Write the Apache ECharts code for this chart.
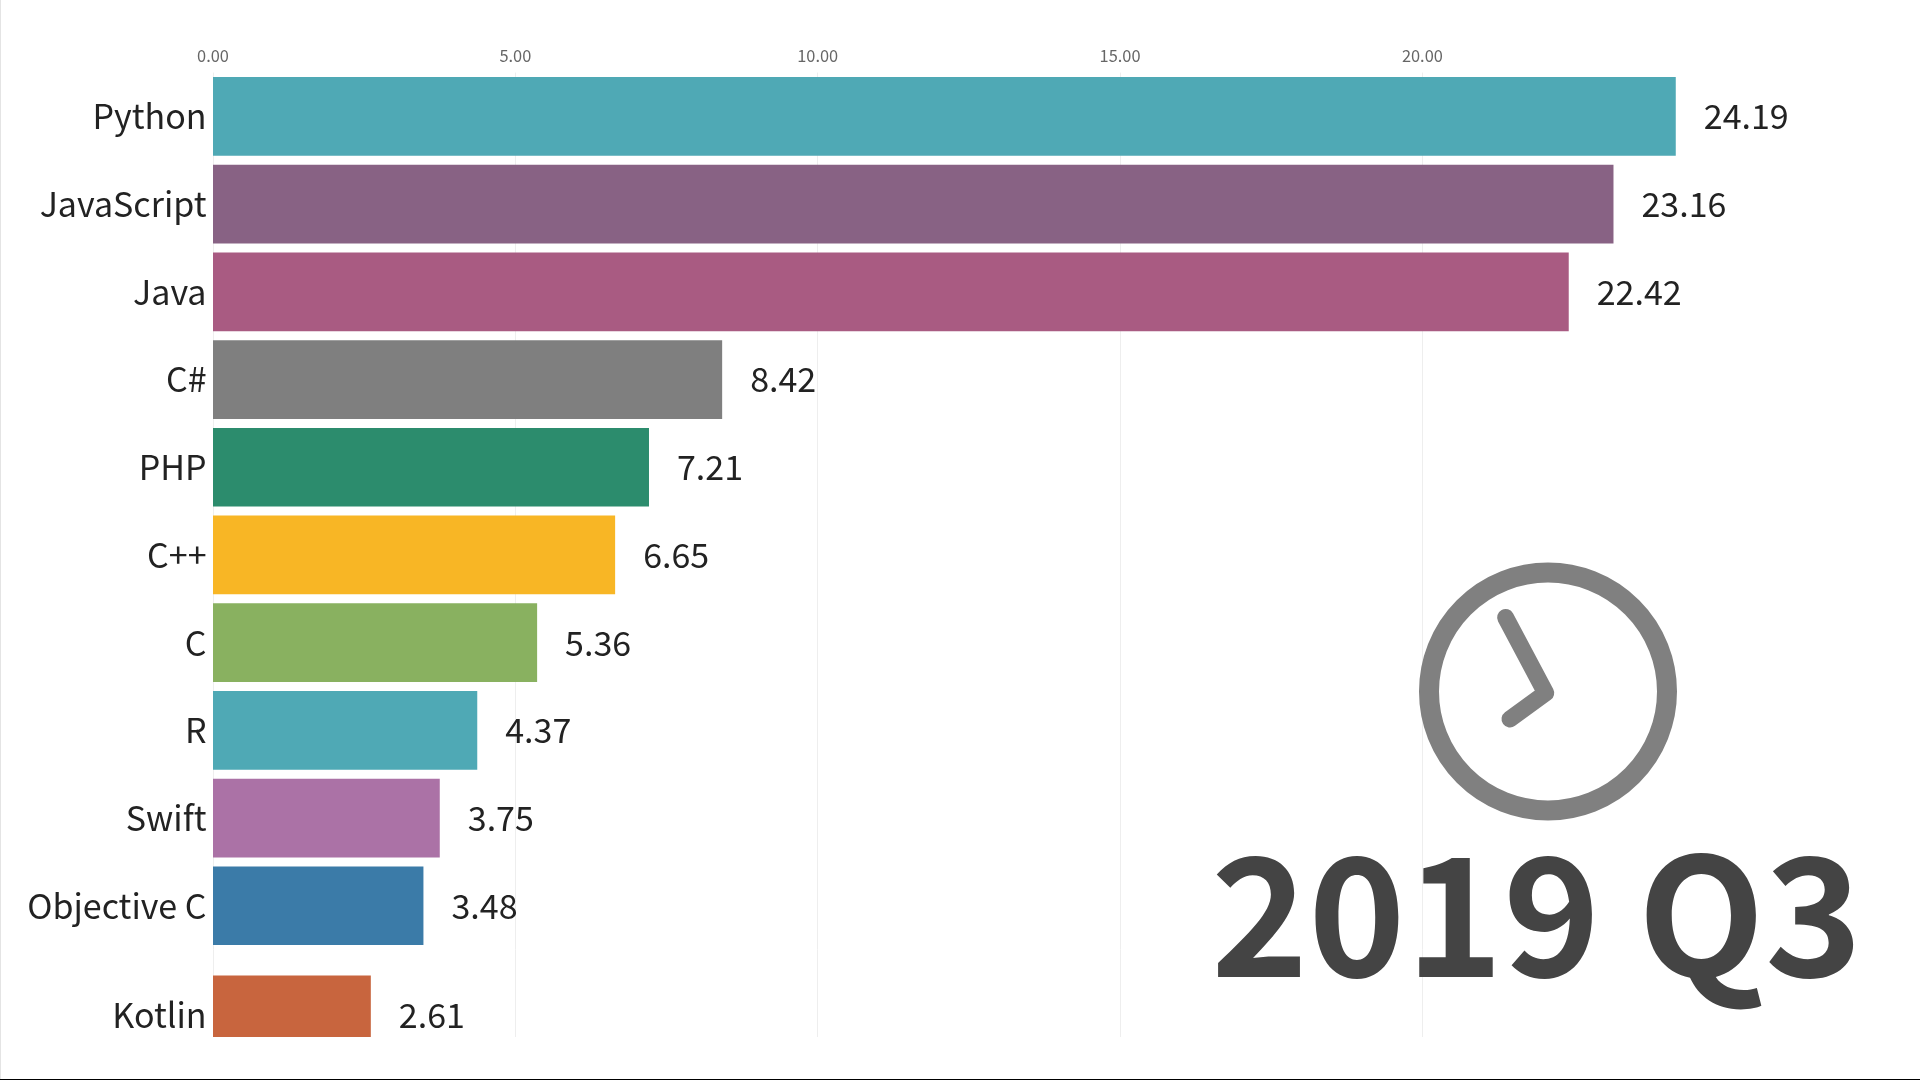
<!DOCTYPE html>
<html><head><meta charset="utf-8">
<style>html,body{margin:0;padding:0;background:#fff;overflow:hidden}#c{width:1920px;height:1080px}</style>
<script src="https://cdn.jsdelivr.net/npm/echarts@6/dist/echarts.min.js"></script>
</head><body><div id="c"></div>
<script>
const categories = ['Python','JavaScript','Java','C#','PHP','C++','C','R','Swift','Objective C'];
const values = [24.19,23.16,22.42,8.42,7.21,6.65,5.36,4.37,3.75,3.48];
const barColors = ['#4FA9B5','#886284','#A95B82','#7F7F7F','#2C8C6D','#F8B625','#89B160','#4FA9B5','#AB72A6','#3B7BA8'];
const enteringCategory = ['Kotlin'];
const enteringValue = [2.61];
const enteringColor = '#C8653E';
const periodLabel = '2019 Q3';

const FONT = '"Noto Sans CJK JP","Noto Sans",sans-serif';
const chart = echarts.init(document.getElementById('c'), null, {renderer:'canvas'});
const X = {min:0,max:25,interval:5};
const barLabel = {show:true,position:'right',distance:28,fontFamily:FONT,fontSize:34,color:'#222',
  formatter:p=>p.value.toFixed(2)};
chart.setOption({
  animation:false,
  backgroundColor:'#fff',
  title:{text:periodLabel,left:1211,top:832,padding:0,
    textStyle:{fontFamily:FONT,fontSize:165,fontWeight:'bold',color:'#444'}},
  grid:[
    {left:213,top:72.6,width:1511.75,height:877,containLabel:false},
    {left:213,top:949.6,width:1511.75,height:191,containLabel:false}
  ],
  xAxis:[
    {gridIndex:0,type:'value',position:'top',...X,
     axisLine:{show:false},axisTick:{show:false},
     axisLabel:{show:true,showMaxLabel:false,margin:9,fontFamily:FONT,fontSize:16.4,color:'#666',formatter:v=>v.toFixed(2)},
     splitLine:{show:true,showMaxLine:false,lineStyle:{color:'#eeeeee',width:1}}},
    {gridIndex:1,type:'value',position:'top',...X,
     axisLine:{show:false},axisTick:{show:false},axisLabel:{show:false},
     splitLine:{show:true,showMaxLine:false,lineStyle:{color:'#eeeeee',width:1}}}
  ],
  yAxis:[
    {gridIndex:0,type:'category',inverse:true,data:categories,
     axisLine:{show:false},axisTick:{show:false},
     axisLabel:{margin:6.5,fontFamily:FONT,fontSize:34,color:'#222'}},
    {gridIndex:1,type:'category',inverse:true,data:enteringCategory,
     axisLine:{show:false},axisTick:{show:false},
     axisLabel:{margin:6.5,fontFamily:FONT,fontSize:34,color:'#222'}}
  ],
  series:[
    {type:'bar',xAxisIndex:0,yAxisIndex:0,barWidth:78.7,label:barLabel,
     data:values.map((v,i)=>({value:v,itemStyle:{color:barColors[i]}}))},
    {type:'bar',xAxisIndex:1,yAxisIndex:1,barWidth:78.7,label:barLabel,
     data:enteringValue.map(v=>({value:v,itemStyle:{color:enteringColor}}))}
  ],
  graphic:[
    {type:'circle',z:50,shape:{cx:1548,cy:691.5,r:119},style:{fill:'none',stroke:'#808080',lineWidth:20}},
    {type:'polyline',z:50,shape:{points:[[1505.6,617.5],[1545.7,693],[1510,719]]},
     style:{fill:'none',stroke:'#808080',lineWidth:17,lineCap:'round',lineJoin:'round'}},
    {type:'rect',z:100,shape:{x:0,y:1037,width:1920,height:42},style:{fill:'#fff'}},
    {type:'rect',z:101,shape:{x:0,y:1079,width:1920,height:1},style:{fill:'#000'}},
    {type:'rect',z:101,shape:{x:0,y:0,width:1,height:1079},style:{fill:'#e4e4e4'}}
  ]
});
</script></body></html>
